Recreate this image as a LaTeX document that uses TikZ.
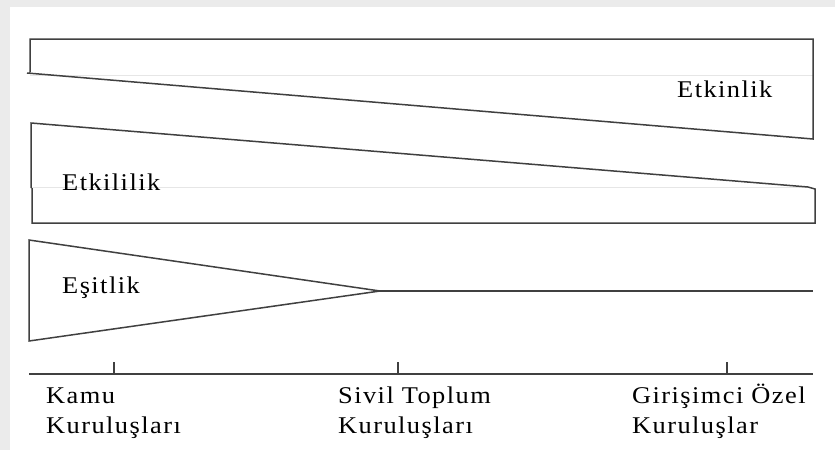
\documentclass[tikz,border=0pt]{standalone}
\usepackage{fontspec}
\setmainfont{Liberation Serif}[FakeStretch=1.1,LetterSpace=6]
\definecolor{bggray}{HTML}{EBEBEB}
\definecolor{linecol}{HTML}{404040}
\definecolor{faint}{HTML}{E6E6E6}
\begin{document}
\begin{tikzpicture}[x=1pt,y=-1pt,
  shapeline/.style={draw=linecol,line width=1.5pt,line join=miter},
  faintline/.style={draw=faint,line width=0.8pt},
  lbl/.style={anchor=base west,inner sep=0pt,font=\fontsize{24}{30}\selectfont,text=black}]
\useasboundingbox (0,0) rectangle (835,450);
\fill[bggray] (0,0) rectangle (835,450);
\fill[white] (10,7) rectangle (835,450);
% faint boundary lines
\draw[faintline] (30,75) -- (813,75);
\draw[faintline] (32,187) -- (808,187);
% Etkinlik shape
\draw[shapeline] (30,72) -- (30,39) -- (813,39) -- (813,139) -- (27,73);
% Etkililik shape
\draw[shapeline] (31,188) -- (31,123) -- (808,187) -- (815,189) -- (815,223) -- (32,223) -- (32,188);
% Esitlik shape
\coordinate (apex) at (380,291);
\coordinate (lineend) at (813,291);
\draw[shapeline] (29,240) -- (apex) -- (29,341) -- cycle;
\draw[shapeline] (apex) -- (lineend);
% axis
\coordinate (axl) at (29,374);
\coordinate (axr) at (813,374);
\draw[shapeline] (axl) -- (axr);
\foreach \t/\xx in {t1/114,t2/398,t3/727}{
  \coordinate (\t top) at (\xx,362);
  \coordinate (\t bot) at (\xx,374);
  \draw[shapeline] (\t top) -- (\t bot);
}
% labels
\node[lbl] (etkinlik) at (677,97) {Etkinlik};
\node[lbl] (etkililik) at (62,190) {Etkililik};
\node[lbl] (esitlik) at (62,293) {Eşitlik};
\node[lbl] (kamuA) at (46,403) {Kamu};
\node[lbl] (kamuB) at (46,433) {Kuruluşları};
\node[lbl] (sivilA) at (338,403) {Sivil Toplum};
\node[lbl] (sivilB) at (338,433) {Kuruluşları};
\node[lbl] (girA) at (632,403) {Girişimci Özel};
\node[lbl] (girB) at (632,433) {Kuruluşlar};
\end{tikzpicture}
\end{document}
